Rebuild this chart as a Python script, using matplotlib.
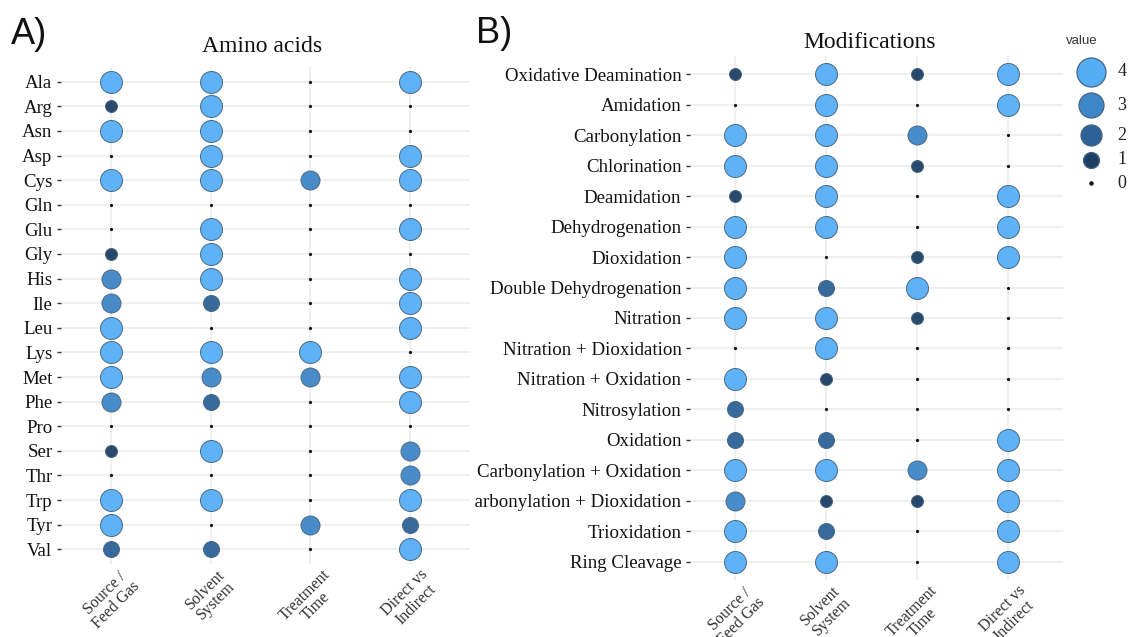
import matplotlib
matplotlib.use("Agg")
import matplotlib.pyplot as plt
from matplotlib.transforms import Bbox, TransformedBbox
import numpy as np

# ---------------------------------------------------------------- data
factors = ["Source /\nFeed Gas", "Solvent\nSystem", "Treatment\nTime", "Direct vs\nIndirect"]

amino_acids = ["Ala", "Arg", "Asn", "Asp", "Cys", "Gln", "Glu", "Gly", "His", "Ile",
               "Leu", "Lys", "Met", "Phe", "Pro", "Ser", "Thr", "Trp", "Tyr", "Val"]
aa_source  = [4, 1, 4, 0, 4, 0, 0, 1, 3, 3, 4, 4, 4, 3, 0, 1, 0, 4, 4, 2]
aa_solvent = [4, 4, 4, 4, 4, 0, 4, 4, 4, 2, 0, 4, 3, 2, 0, 4, 0, 4, 0, 2]
aa_time    = [0, 0, 0, 0, 3, 0, 0, 0, 0, 0, 0, 4, 3, 0, 0, 0, 0, 0, 3, 0]
aa_direct  = [4, 0, 0, 4, 4, 0, 4, 0, 4, 4, 4, 0, 4, 4, 0, 3, 3, 4, 2, 4]

modifications = ["Oxidative Deamination", "Amidation", "Carbonylation", "Chlorination",
                 "Deamidation", "Dehydrogenation", "Dioxidation", "Double Dehydrogenation",
                 "Nitration", "Nitration + Dioxidation", "Nitration + Oxidation",
                 "Nitrosylation", "Oxidation", "Carbonylation + Oxidation",
                 "Carbonylation + Dioxidation", "Trioxidation", "Ring Cleavage"]
mod_source  = [1, 0, 4, 4, 1, 4, 4, 4, 4, 0, 4, 2, 2, 4, 3, 4, 4]
mod_solvent = [4, 4, 4, 4, 4, 4, 0, 2, 4, 4, 1, 0, 2, 4, 1, 2, 4]
mod_time    = [1, 0, 3, 1, 0, 0, 1, 4, 1, 0, 0, 0, 0, 3, 1, 0, 0]
mod_direct  = [4, 4, 0, 0, 4, 4, 4, 0, 0, 0, 0, 0, 4, 4, 4, 4, 4]

legend_levels = [4, 3, 2, 1, 0]

# ---------------------------------------------------------------- style
W, H = 1131, 637
SERIF = ["Liberation Serif", "DejaVu Serif"]
SANS = ["Liberation Sans", "DejaVu Sans"]
FILL = {0: "#111111", 1: "#1C3F63", 2: "#2D6297", 3: "#3F86C8", 4: "#55AEF5"}
EDGE = "#46647f"
DIAM_PX = {0: 3.2, 1: 12, 2: 16, 3: 19, 4: 22}
GRID = "#EBEBEB"


def px_area(d_px):
    pt = d_px * 72.0 / 100.0
    return pt * pt


def rect(x0, y0, x1, y1):
    return [x0 / W, 1 - y1 / H, (x1 - x0) / W, (y1 - y0) / H]


def dot_panel(ax, rows, columns):
    n = len(rows)
    ax.set_xlim(-0.5, len(columns) - 1 + 0.6)
    ax.set_ylim(n - 1 + 0.6, -0.6)
    for s in ax.spines.values():
        s.set_visible(False)
    ax.set_facecolor("white")
    for i in range(n):
        ax.axhline(i, color=GRID, lw=1.1, zorder=0)
    for j in range(len(columns)):
        ax.axvline(j, color=GRID, lw=1.1, zorder=0)
    for j, col in enumerate(columns):
        for i, v in enumerate(col):
            if v == 0:
                ax.scatter(j, i, s=px_area(DIAM_PX[0]), c=FILL[0], lw=0, zorder=3)
            else:
                ax.scatter(j, i, s=px_area(DIAM_PX[v]), c=FILL[v],
                           edgecolors=EDGE, linewidths=0.7, alpha=0.95, zorder=3)
    ax.set_yticks(range(n))
    ax.set_yticklabels(rows, family=SERIF, fontsize=13.6, color="#111111")
    ax.tick_params(axis="y", length=3.2, width=1.0, color="#333333", pad=3)
    ax.set_xticks(range(len(columns)))
    ax.set_xticklabels(factors, family=SERIF, fontsize=11.5, color="#333333",
                       rotation=45, ha="center", va="top", multialignment="center",
                       linespacing=1.0)
    ax.tick_params(axis="x", length=0, pad=2)


fig = plt.figure(figsize=(W / 100, H / 100), dpi=100)
fig.patch.set_facecolor("white")

axA = fig.add_axes(rect(61, 67, 470, 564))
dot_panel(axA, amino_acids, [aa_source, aa_solvent, aa_time, aa_direct])

axB = fig.add_axes(rect(690, 56, 1063, 580))
dot_panel(axB, modifications, [mod_source, mod_solvent, mod_time, mod_direct])

# panel B's row labels are cropped at the panel's left border
panel_b_box = TransformedBbox(Bbox([[474 / W, 0.0], [1.0, 1.0]]), fig.transFigure)
for lab in axB.get_yticklabels():
    lab.set_clip_box(panel_b_box)
    lab.set_clip_on(True)

fig.text(262 / W, 1 - 52 / H, "Amino acids", family=SERIF, fontsize=17,
         color="#111111", ha="center", va="baseline")
fig.text(870 / W, 1 - 48 / H, "Modifications", family=SERIF, fontsize=17,
         color="#111111", ha="center", va="baseline")

fig.text(11 / W, 1 - 44 / H, "A)", family=SANS, fontsize=26, color="#111111", va="baseline")
fig.text(476 / W, 1 - 43 / H, "B)", family=SANS, fontsize=26, color="#111111", va="baseline")

# size / colour key
axL = fig.add_axes(rect(1062, 28, 1131, 200))
axL.set_xlim(0, 1)
axL.set_ylim(200, 28)
axL.axis("off")
key_y = [72, 105, 135, 160, 183]
key_d = {4: 29, 3: 25, 2: 21, 1: 16, 0: 4.5}
axL.text(0.06, 41, "value", family=SANS, fontsize=9.5, color="#333333", va="center")
for lvl, yy in zip(legend_levels, key_y):
    if lvl == 0:
        axL.scatter(0.42, yy, s=px_area(key_d[0]), c=FILL[0], lw=0)
    else:
        axL.scatter(0.42, yy, s=px_area(key_d[lvl]), c=FILL[lvl],
                    edgecolors=EDGE, linewidths=0.9)
    axL.text(0.87, yy, str(lvl), family=SERIF, fontsize=13, color="#222222",
             va="center", ha="center")

fig.savefig("out.png", dpi=100)
